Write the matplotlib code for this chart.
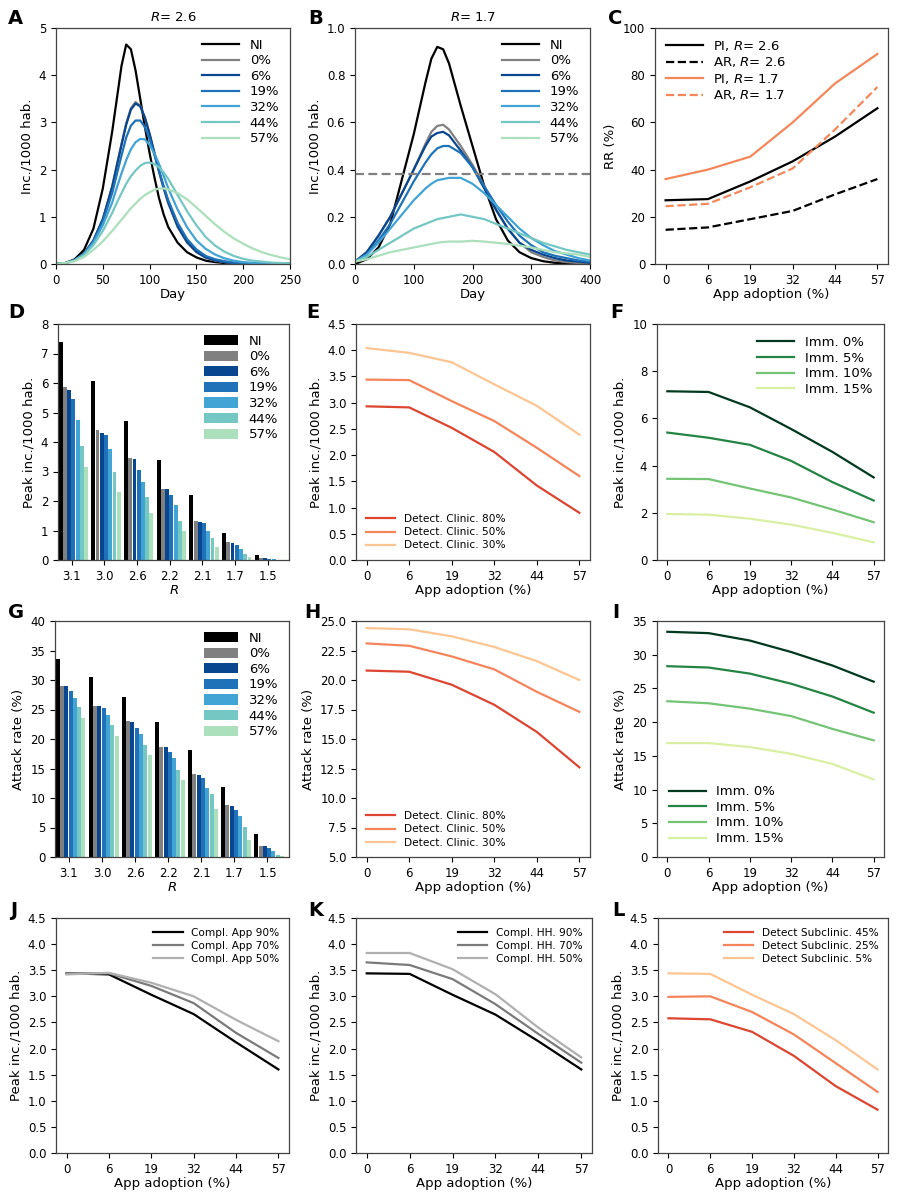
import numpy as np
import matplotlib
matplotlib.use("Agg")
import matplotlib.pyplot as plt

# ---------------- data ----------------
series_labels = ["NI", "0%", "6%", "19%", "32%", "44%", "57%"]
series_colors = ["#000000", "#808080", "#08468f", "#1f72b8", "#42a3d5", "#74c7c2", "#acdfbb"]

days_A = [0, 10, 20, 30, 40, 50, 60, 65, 70, 75, 80, 85, 90, 95, 100, 105, 110, 115, 120,
          130, 140, 150, 160, 170, 180, 190, 200, 210, 220, 230, 240, 250]
inc_A = {
    "NI":  [0, 0.02, 0.1, 0.3, 0.75, 1.6, 2.8, 3.5, 4.2, 4.65, 4.55, 4.1, 3.5, 2.9, 2.35, 1.85, 1.4, 1.05, 0.78,
            0.45, 0.25, 0.14, 0.07, 0.04, 0.02, 0.01, 0.005, 0.003, 0.002, 0.001, 0.001, 0.0],
    "0%":  [0, 0.02, 0.08, 0.22, 0.5, 0.95, 1.65, 2.1, 2.55, 2.98, 3.3, 3.43, 3.35, 3.1, 2.75, 2.35, 1.95, 1.6, 1.28,
            0.78, 0.45, 0.25, 0.13, 0.07, 0.04, 0.02, 0.01, 0.005, 0.003, 0.002, 0.001, 0.0],
    "6%":  [0, 0.02, 0.08, 0.22, 0.5, 0.95, 1.63, 2.08, 2.52, 2.95, 3.27, 3.4, 3.34, 3.1, 2.76, 2.37, 1.98, 1.62, 1.3,
            0.8, 0.47, 0.26, 0.14, 0.08, 0.04, 0.02, 0.01, 0.006, 0.003, 0.002, 0.001, 0.0],
    "19%": [0, 0.02, 0.08, 0.22, 0.48, 0.9, 1.5, 1.9, 2.3, 2.68, 2.93, 3.04, 3.04, 2.9, 2.65, 2.32, 1.98, 1.65, 1.35,
            0.87, 0.53, 0.31, 0.17, 0.1, 0.06, 0.03, 0.02, 0.01, 0.006, 0.003, 0.002, 0.001],
    "32%": [0, 0.02, 0.08, 0.21, 0.45, 0.82, 1.3, 1.62, 1.92, 2.2, 2.43, 2.58, 2.65, 2.64, 2.52, 2.35, 2.12, 1.87, 1.6,
            1.15, 0.78, 0.5, 0.32, 0.2, 0.12, 0.07, 0.04, 0.025, 0.015, 0.01, 0.006, 0.004],
    "44%": [0, 0.02, 0.07, 0.19, 0.4, 0.7, 1.08, 1.3, 1.5, 1.7, 1.86, 1.98, 2.08, 2.14, 2.15, 2.12, 2.05, 1.94, 1.8,
            1.46, 1.12, 0.82, 0.57, 0.39, 0.26, 0.17, 0.11, 0.07, 0.05, 0.03, 0.02, 0.012],
    "57%": [0, 0.02, 0.06, 0.15, 0.3, 0.48, 0.7, 0.82, 0.94, 1.06, 1.18, 1.28, 1.38, 1.46, 1.52, 1.57, 1.6, 1.6, 1.58,
            1.5, 1.37, 1.2, 1.02, 0.84, 0.68, 0.54, 0.43, 0.33, 0.25, 0.19, 0.14, 0.1],
}

days_B = [0, 20, 40, 60, 80, 100, 120, 130, 140, 150, 160, 180, 200, 220, 240, 260, 280, 300, 320, 340, 360, 380, 400]
inc_B = {
    "NI":  [0, 0.02, 0.07, 0.17, 0.36, 0.55, 0.77, 0.87, 0.92, 0.91, 0.85, 0.67, 0.5, 0.33, 0.19, 0.1, 0.05, 0.025, 0.012, 0.005, 0.002, 0.001, 0.0],
    "0%":  [0.01, 0.05, 0.12, 0.2, 0.3, 0.4, 0.51, 0.56, 0.585, 0.59, 0.57, 0.5, 0.42, 0.33, 0.23, 0.15, 0.09, 0.05, 0.03, 0.015, 0.008, 0.004, 0.002],
    "6%":  [0.01, 0.05, 0.12, 0.2, 0.3, 0.4, 0.5, 0.54, 0.555, 0.56, 0.545, 0.48, 0.41, 0.32, 0.23, 0.15, 0.09, 0.06, 0.04, 0.025, 0.015, 0.01, 0.005],
    "19%": [0.01, 0.04, 0.1, 0.17, 0.26, 0.35, 0.43, 0.465, 0.49, 0.5, 0.5, 0.47, 0.41, 0.33, 0.25, 0.18, 0.12, 0.08, 0.05, 0.035, 0.025, 0.015, 0.01],
    "32%": [0.01, 0.04, 0.09, 0.15, 0.21, 0.27, 0.32, 0.34, 0.355, 0.36, 0.365, 0.365, 0.34, 0.3, 0.25, 0.2, 0.15, 0.11, 0.08, 0.055, 0.04, 0.025, 0.015],
    "44%": [0.01, 0.03, 0.06, 0.09, 0.12, 0.15, 0.17, 0.18, 0.19, 0.195, 0.2, 0.21, 0.2, 0.19, 0.17, 0.15, 0.13, 0.11, 0.09, 0.075, 0.06, 0.05, 0.04],
    "57%": [0.01, 0.02, 0.035, 0.05, 0.06, 0.07, 0.08, 0.085, 0.09, 0.093, 0.095, 0.095, 0.098, 0.095, 0.09, 0.085, 0.078, 0.07, 0.06, 0.05, 0.045, 0.04, 0.03],
}
threshold_B = 0.38

adoption = ["0", "6", "19", "32", "44", "57"]

rr_pi_26 = [27, 27.5, 35, 43.5, 54, 66]
rr_ar_26 = [14.5, 15.5, 19, 22.5, 29.5, 36]
rr_pi_17 = [36, 40, 45.5, 60, 76.5, 89]
rr_ar_17 = [24.5, 25.5, 32.5, 40.5, 57, 75]

r_groups = ["3.1", "3.0", "2.6", "2.2", "2.1", "1.7", "1.5"]
peak_D = {
    "NI":  [7.4, 6.08, 4.72, 3.38, 2.2, 0.93, 0.17],
    "0%":  [5.85, 4.4, 3.45, 2.42, 1.32, 0.6, 0.07],
    "6%":  [5.75, 4.3, 3.42, 2.4, 1.28, 0.57, 0.06],
    "19%": [5.45, 4.25, 3.05, 2.2, 1.27, 0.52, 0.04],
    "32%": [4.75, 3.75, 2.65, 1.85, 0.98, 0.37, 0.02],
    "44%": [3.85, 3.0, 2.15, 1.33, 0.75, 0.22, 0.01],
    "57%": [3.15, 2.3, 1.6, 1.0, 0.45, 0.1, 0.005],
}
attack_G = {
    "NI":  [33.6, 30.5, 27.1, 22.9, 18.2, 11.8, 3.9],
    "0%":  [29.0, 25.6, 23.1, 18.7, 14.0, 8.8, 1.9],
    "6%":  [28.9, 25.6, 22.8, 18.7, 13.9, 8.7, 1.9],
    "19%": [28.2, 25.2, 21.9, 17.8, 13.4, 8.0, 1.5],
    "32%": [26.9, 24.0, 20.9, 16.7, 11.7, 7.0, 1.1],
    "44%": [25.4, 22.3, 19.0, 14.8, 10.6, 5.1, 0.3],
    "57%": [23.5, 20.5, 17.3, 13.0, 8.2, 2.8, 0.1],
}

clin_labels = ["Detect. Clinic. 80%", "Detect. Clinic. 50%", "Detect. Clinic. 30%"]
clin_colors = ["#dc4530", "#f4845a", "#fdc592"]
peak_E = [[2.93, 2.91, 2.52, 2.06, 1.42, 0.9],
          [3.44, 3.43, 3.03, 2.65, 2.14, 1.6],
          [4.04, 3.95, 3.77, 3.35, 2.94, 2.39]]
attack_H = [[20.8, 20.7, 19.6, 17.9, 15.6, 12.6],
            [23.1, 22.9, 22.0, 20.9, 19.0, 17.3],
            [24.4, 24.3, 23.7, 22.8, 21.6, 20.0]]

imm_labels = ["Imm. 0%", "Imm. 5%", "Imm. 10%", "Imm. 15%"]
imm_colors = ["#00391f", "#238443", "#74c476", "#d9f0a3"]
peak_F = [[7.15, 7.12, 6.47, 5.55, 4.58, 3.5],
          [5.4, 5.18, 4.88, 4.2, 3.3, 2.52],
          [3.44, 3.43, 3.03, 2.65, 2.14, 1.6],
          [1.95, 1.92, 1.75, 1.5, 1.15, 0.75]]
attack_I = [[33.4, 33.2, 32.1, 30.4, 28.4, 26.0],
            [28.3, 28.1, 27.2, 25.7, 23.8, 21.4],
            [23.1, 22.8, 22.0, 20.9, 19.0, 17.3],
            [16.9, 16.9, 16.3, 15.3, 13.8, 11.5]]

app_labels = ["Compl. App 90%", "Compl. App 70%", "Compl. App 50%"]
hh_labels = ["Compl. HH. 90%", "Compl. HH. 70%", "Compl. HH. 50%"]
gray_colors = ["#000000", "#7a7a7a", "#b0b0b0"]
peak_J = [[3.44, 3.42, 3.03, 2.66, 2.12, 1.6],
          [3.44, 3.44, 3.2, 2.87, 2.3, 1.82],
          [3.42, 3.45, 3.26, 3.0, 2.55, 2.14]]
peak_K = [[3.44, 3.43, 3.03, 2.65, 2.14, 1.6],
          [3.65, 3.6, 3.33, 2.85, 2.28, 1.73],
          [3.83, 3.83, 3.52, 3.04, 2.4, 1.83]]
sub_labels = ["Detect Subclinic. 45%", "Detect Subclinic. 25%", "Detect Subclinic. 5%"]
peak_L = [[2.58, 2.56, 2.32, 1.86, 1.28, 0.83],
          [2.99, 3.0, 2.7, 2.27, 1.72, 1.17],
          [3.44, 3.43, 3.03, 2.66, 2.16, 1.6]]

# ---------------- style ----------------
plt.rcParams.update({
    "font.family": ["DejaVu Sans"],
    "font.size": 9,
    "axes.labelsize": 9.5,
    "xtick.labelsize": 8.5,
    "ytick.labelsize": 8.5,
    "axes.edgecolor": "#444444",
    "axes.linewidth": 0.9,
    "legend.frameon": False,
})

W, H = 900, 1200
fig = plt.figure(figsize=(9, 12), dpi=100)


def ax_at(l, t, r, b):
    return fig.add_axes([l / W, 1 - b / H, (r - l) / W, (b - t) / H])


def letter(x, y, s):
    fig.text(x / W, 1 - y / H, s, fontsize=14, fontweight="bold", ha="left", va="center")


cols = [(56, 290), (356, 590), (657, 886)]
rows = [(28, 264), (324, 560), (621, 857), (918, 1153)]
LW = 1.6
BIG = 9.5
SMALL = 7.6

# A
ax = ax_at(cols[0][0], rows[0][0], cols[0][1], rows[0][1])
for lab, c in zip(series_labels, series_colors):
    ax.plot(days_A, inc_A[lab], color=c, lw=LW, label=lab)
ax.set_xlim(0, 250)
ax.set_ylim(0, 5)
ax.set_xticks([0, 50, 100, 150, 200, 250])
ax.set_xlabel("Day", labelpad=1)
ax.set_ylabel("Inc./1000 hab.")
ax.set_title("$R$= 2.6", fontsize=9.5, pad=5)
ax.legend(loc="upper right", fontsize=BIG, handlelength=2.8, labelspacing=0.2, borderaxespad=0.4)
letter(8, 18, "A")

# B
ax = ax_at(cols[1][0] - 1, rows[0][0], cols[1][1], rows[0][1])
for lab, c in zip(series_labels, series_colors):
    ax.plot(days_B, inc_B[lab], color=c, lw=LW, label=lab)
ax.axhline(threshold_B, color="#808080", ls="--", lw=1.6, dashes=(4, 2))
ax.set_xlim(0, 400)
ax.set_ylim(0, 1.0)
ax.set_xticks([0, 100, 200, 300, 400])
ax.set_yticks([0, 0.2, 0.4, 0.6, 0.8, 1.0])
ax.set_xlabel("Day", labelpad=1)
ax.set_ylabel("Inc./1000 hab.")
ax.set_title("$R$= 1.7", fontsize=9.5, pad=5)
handles = [h for h in ax.get_lines()[:7]]
ax.legend(handles, series_labels, loc="upper right", fontsize=BIG, handlelength=2.8, labelspacing=0.2,
          borderaxespad=0.4)
letter(308, 18, "B")

# C
ax = ax_at(cols[2][0] - 2, rows[0][0], cols[2][1] + 2, rows[0][1])
xi = np.arange(len(adoption))
orange = "#f4875a"
ax.plot(xi, rr_pi_26, color="black", lw=LW, label="PI, $R$= 2.6")
ax.plot(xi, rr_ar_26, color="black", lw=LW, ls="--", label="AR, $R$= 2.6")
ax.plot(xi, rr_pi_17, color=orange, lw=LW, label="PI, $R$= 1.7")
ax.plot(xi, rr_ar_17, color=orange, lw=LW, ls="--", label="AR, $R$= 1.7")
ax.set_xticks(xi)
ax.set_xticklabels(adoption)
ax.set_xlim(-0.25, 5.25)
ax.set_ylim(0, 100)
ax.set_xlabel("App adoption (%)", labelpad=1)
ax.set_ylabel("RR (%)")
ax.legend(loc="upper left", fontsize=BIG, handlelength=2.8, labelspacing=0.2, borderaxespad=0.4)
letter(608, 18, "C")


def bar_panel(ax, data, ylim, yticks, ylabel):
    w = 0.13
    g = np.arange(len(r_groups))
    for i, (lab, c) in enumerate(zip(series_labels, series_colors)):
        ax.bar(g + (i - 3) * w, data[lab], width=w * 0.92, color=c, label=lab)
    ax.set_xticks(g - 0.05)
    ax.set_xticklabels(r_groups)
    ax.set_xlim(-0.47, 6.6)
    ax.set_ylim(*ylim)
    ax.set_yticks(yticks)
    ax.set_xlabel("$R$", labelpad=1)
    ax.set_ylabel(ylabel)
    ax.legend(loc="upper right", fontsize=BIG, handlelength=2.6, handleheight=0.8, labelspacing=0.2,
              borderaxespad=0.4)


# D
ax = ax_at(58, rows[1][0], 289, rows[1][1])
bar_panel(ax, peak_D, (0, 8), range(0, 9), "Peak inc./1000 hab.")
letter(8, 313, "D")

# G
ax = ax_at(55, rows[2][0], 289, rows[2][1])
bar_panel(ax, attack_G, (0, 40), range(0, 41, 5), "Attack rate (%)")
letter(8, 612, "G")


def line_panel(ax, data, labels, colors, ylim, yticks, ylabel, loc, fs, ticklabels=None):
    xi = np.arange(len(adoption))
    for vals, lab, c in zip(data, labels, colors):
        ax.plot(xi, vals, color=c, lw=LW, label=lab)
    ax.set_xticks(xi)
    ax.set_xticklabels(adoption)
    ax.set_xlim(-0.25, 5.25)
    ax.set_ylim(*ylim)
    ax.set_yticks(yticks)
    if ticklabels is not None:
        ax.set_yticklabels(ticklabels)
    ax.set_xlabel("App adoption (%)", labelpad=1)
    ax.set_ylabel(ylabel)
    ax.legend(loc=loc, fontsize=fs, handlelength=2.8 if fs > 9 else 2.8, labelspacing=0.3 if fs < 9 else 0.2,
              borderaxespad=0.5)


half = [f"{v:.1f}" for v in np.arange(0, 4.51, 0.5)]

# E
ax = ax_at(cols[1][0], rows[1][0], cols[1][1], rows[1][1])
line_panel(ax, peak_E, clin_labels, clin_colors, (0, 4.5), np.arange(0, 4.51, 0.5), "Peak inc./1000 hab.",
           "lower left", SMALL, half)
letter(306, 313, "E")

# F
ax = ax_at(cols[2][0], rows[1][0], cols[2][1] - 2, rows[1][1])
line_panel(ax, peak_F, imm_labels, imm_colors, (0, 10), range(0, 11, 2), "Peak inc./1000 hab.",
           "upper right", BIG)
letter(610, 313, "F")

# H
ax = ax_at(cols[1][0], rows[2][0], cols[1][1], rows[2][1])
line_panel(ax, attack_H, clin_labels, clin_colors, (5, 25), np.arange(5, 25.01, 2.5), "Attack rate (%)",
           "lower left", SMALL, [f"{v:.1f}" for v in np.arange(5, 25.01, 2.5)])
letter(304, 612, "H")

# I
ax = ax_at(cols[2][0], rows[2][0], cols[2][1] - 2, rows[2][1])
line_panel(ax, attack_I, imm_labels, imm_colors, (0, 35), range(0, 36, 5), "Attack rate (%)",
           "lower left", BIG)
letter(612, 612, "I")

# J
ax = ax_at(56, rows[3][0], 289, rows[3][1])
line_panel(ax, peak_J, app_labels, gray_colors, (0, 4.5), np.arange(0, 4.51, 0.5), "Peak inc./1000 hab.",
           "upper right", SMALL, half)
letter(10, 910, "J")

# K
ax = ax_at(356, rows[3][0], 592, rows[3][1])
line_panel(ax, peak_K, hh_labels, gray_colors, (0, 4.5), np.arange(0, 4.51, 0.5), "Peak inc./1000 hab.",
           "upper right", SMALL, half)
letter(308, 910, "K")

# L
ax = ax_at(658, rows[3][0], 888, rows[3][1])
line_panel(ax, peak_L, sub_labels, clin_colors, (0, 4.5), np.arange(0, 4.51, 0.5), "Peak inc./1000 hab.",
           "upper right", SMALL, half)
letter(612, 910, "L")

fig.savefig("out.png", dpi=100)
